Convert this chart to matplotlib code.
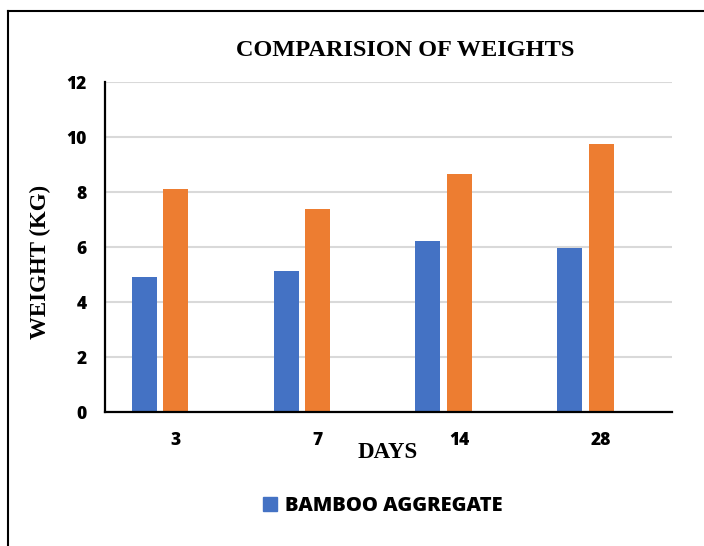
import numpy as np
import matplotlib
matplotlib.use("Agg")
import matplotlib.pyplot as plt
from matplotlib.lines import Line2D
from matplotlib.patches import Patch

days = ['3', '7', '14', '28']
bamboo = [4.91, 5.14, 6.22, 5.98]
conventional = [8.11, 7.39, 8.67, 9.76]

blue = '#4472C4'
orange = '#ED7D31'
serif = 'Liberation Serif'
sans = 'Open Sans'
heavy = 800

fig = plt.figure(figsize=(7.04, 5.46), dpi=100)
ax = fig.add_axes([105 / 704, 1 - 412.3 / 546, 567 / 704, 330 / 546])

x = np.arange(len(days))
w = 0.176
step = 0.222
ax.bar(x - step, bamboo, w, color=blue, label='BAMBOO AGGREGATE')
ax.bar(x, conventional, w, color=orange)

ax.set_xlim(-0.5, len(days) - 0.5)
ax.set_ylim(0, 12)
ax.set_yticks(range(0, 13, 2))
ax.set_xticks(x)
ax.set_xticklabels(days)
ax.grid(axis='y', color='#d9d9d9', lw=1.5)
ax.set_axisbelow(True)
ax.tick_params(length=0, labelsize=12.5, pad=13)
ax.tick_params(axis='x', pad=14)
for lab in ax.get_xticklabels() + ax.get_yticklabels():
    lab.set_fontfamily(sans)
    lab.set_fontweight(heavy)

for s in ['top', 'right']:
    ax.spines[s].set_visible(False)
for s in ['left', 'bottom']:
    ax.spines[s].set_color('black')
    ax.spines[s].set_linewidth(1.6)

fig.text(405 / 704, 1 - 50 / 546, 'COMPARISION OF WEIGHTS', ha='center', va='center',
         family=serif, weight='bold', fontsize=17.5)
fig.text(40 / 704, 1 - 262 / 546, 'WEIGHT (KG)', ha='center', va='center', rotation=90,
         family=serif, weight='bold', fontsize=16.5)
fig.text(388 / 704, 1 - 453 / 546, 'DAYS', ha='center', va='center',
         family=serif, weight='bold', fontsize=16.5)

fig.legend(handles=[Patch(color=blue, label='BAMBOO AGGREGATE')],
           loc='center', bbox_to_anchor=(383 / 704, 1 - 506 / 546), frameon=False,
           prop={'family': sans, 'weight': heavy, 'size': 14.5},
           handlelength=0.7, handleheight=0.7, handletextpad=0.4)

# outer frame (left and top edges)
fig.add_artist(Line2D([8 / 704, 8 / 704], [0, 1 - 11 / 546], transform=fig.transFigure,
                      color='black', lw=1.5))
fig.add_artist(Line2D([8 / 704, 1], [1 - 11 / 546, 1 - 11 / 546], transform=fig.transFigure,
                      color='black', lw=1.5))

fig.savefig('out.png', dpi=100)
